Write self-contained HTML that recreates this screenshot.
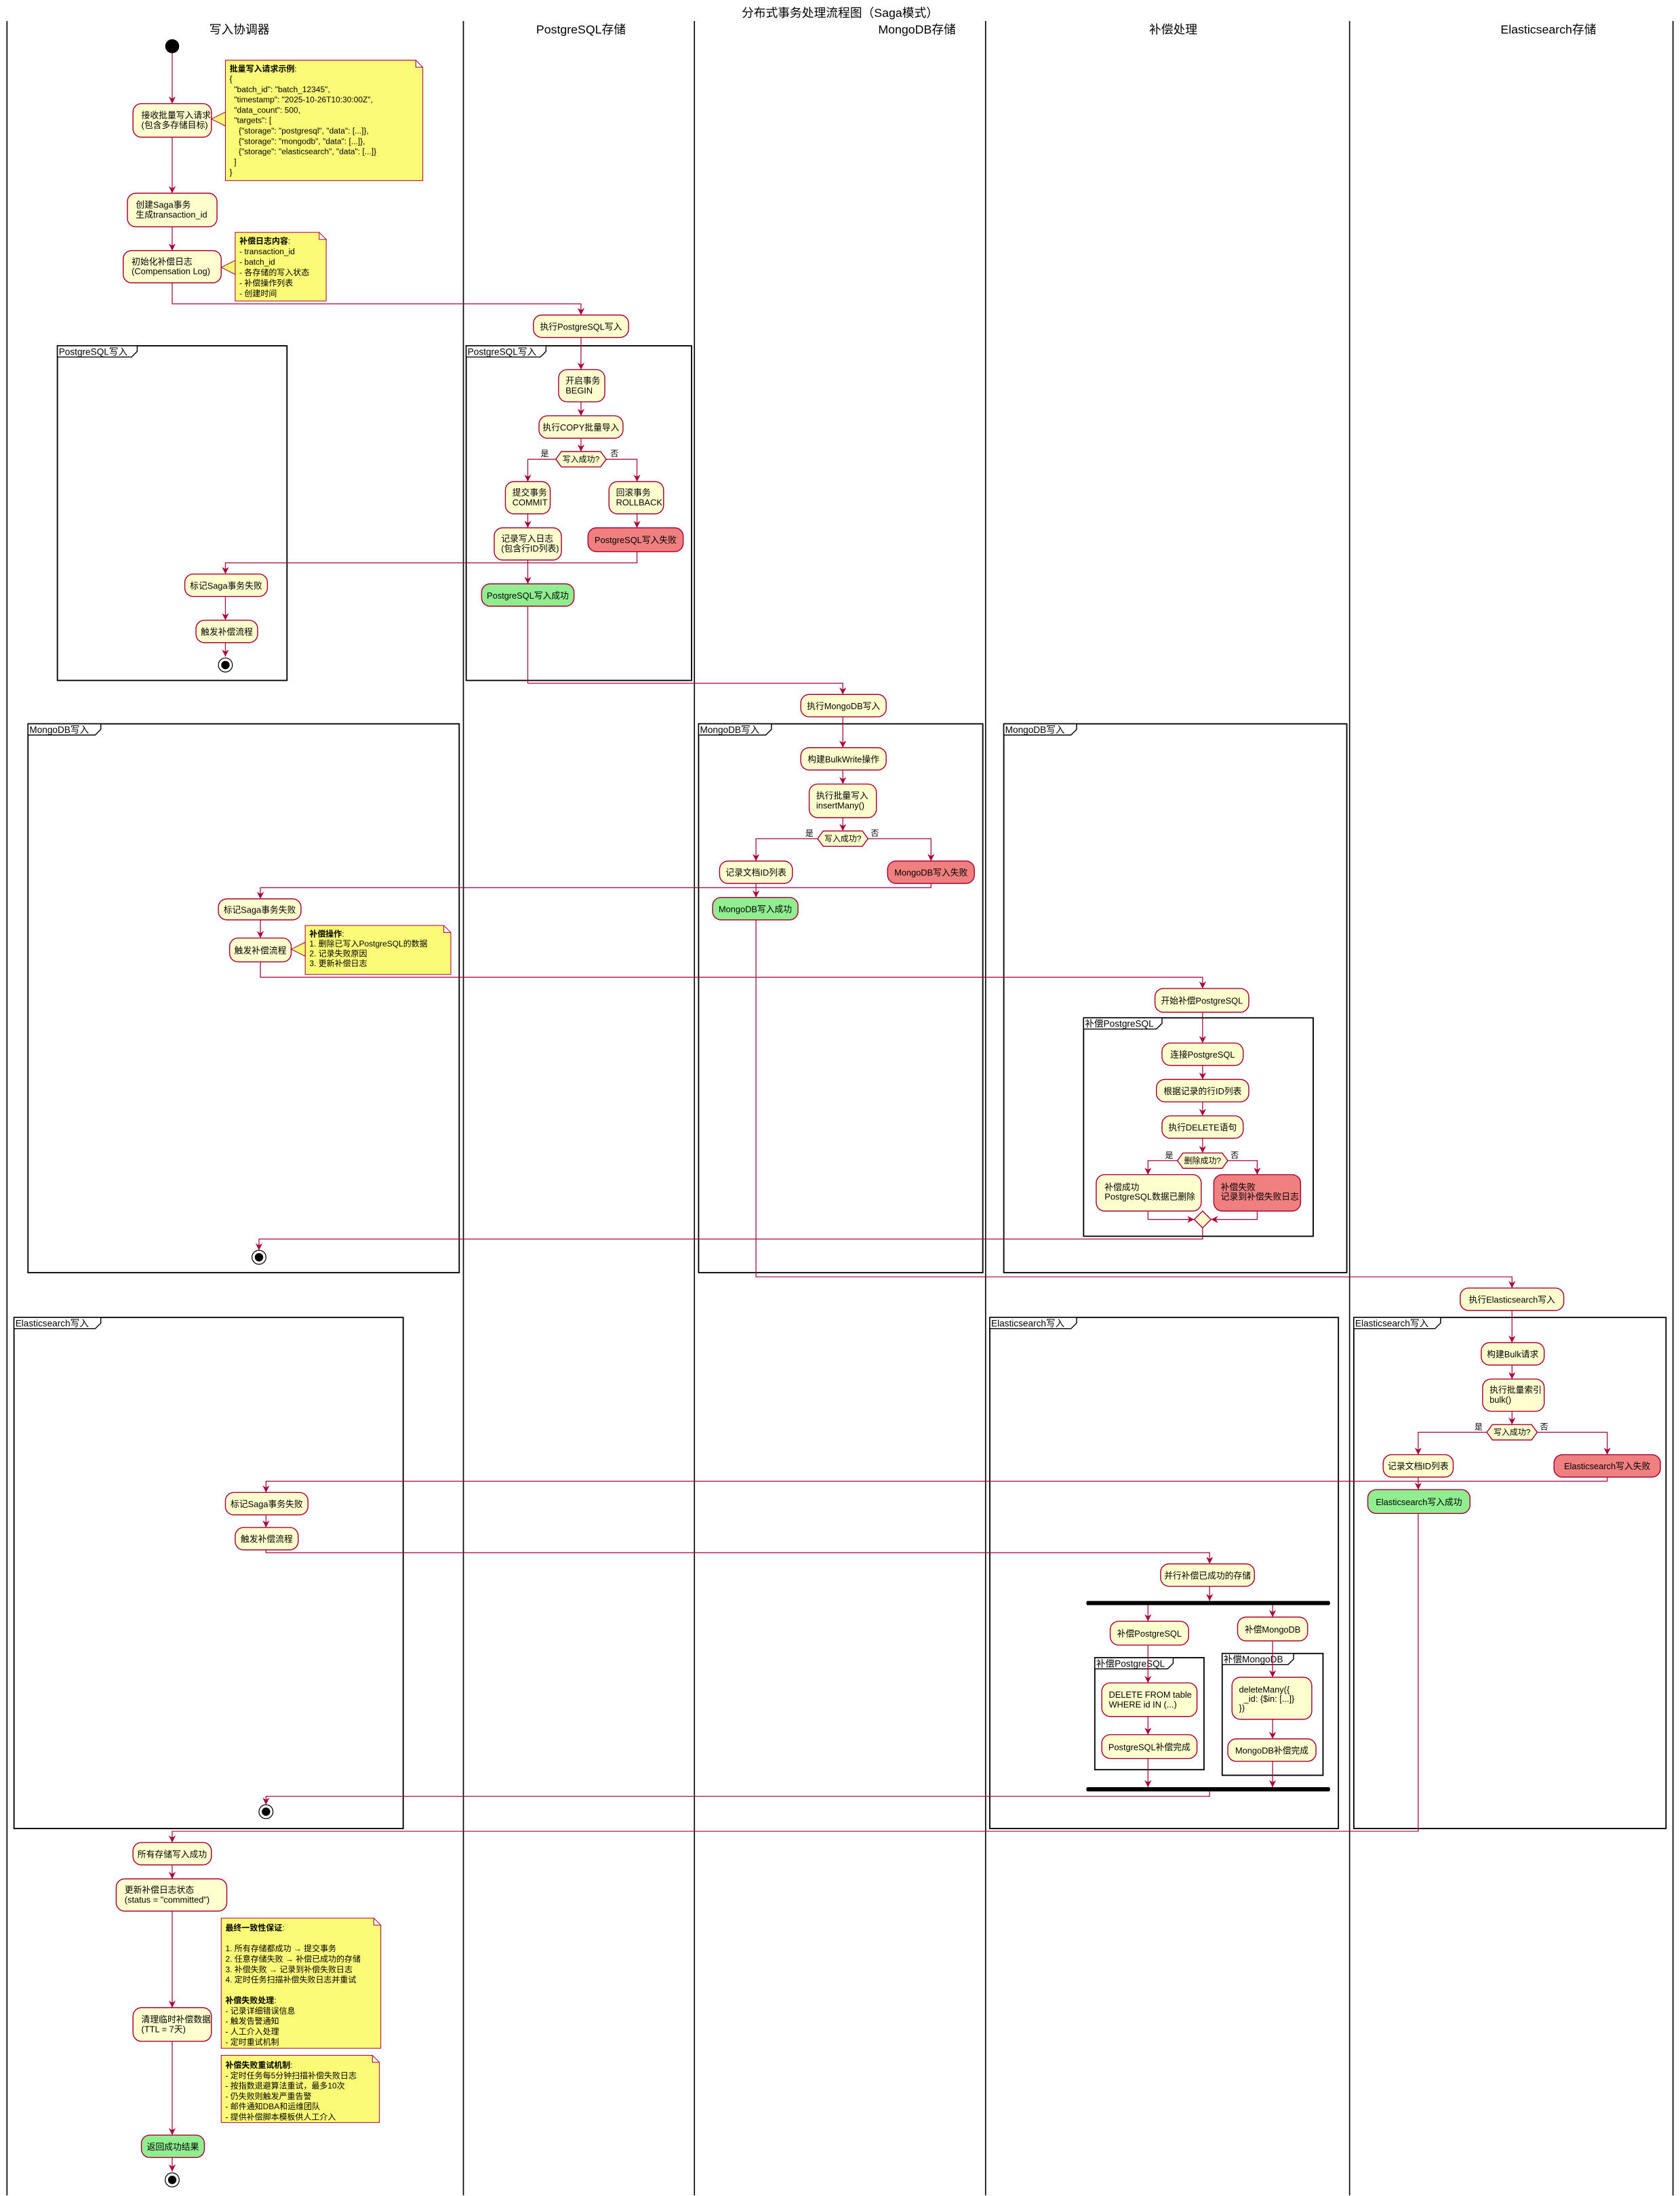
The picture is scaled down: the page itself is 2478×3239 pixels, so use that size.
<!DOCTYPE html>
<html><head><meta charset="utf-8"><style>
html,body{margin:0;padding:0;background:#fff;}
svg{display:block;}
text{font-family:"Liberation Sans","Noto Sans CJK SC",sans-serif;fill:#000;white-space:pre;}
.n{fill:#FEFECE;stroke:#A80036;stroke-width:0.7;}
.r{fill:#F08080;stroke:#A80036;stroke-width:0.7;}
.g{fill:#90EE90;stroke:#A80036;stroke-width:0.7;}
.note{fill:#FBFB77;stroke:#A80036;stroke-width:0.5;}
.l{fill:none;stroke:#A80036;stroke-width:0.6;}
.fr{fill:none;stroke:#000;stroke-width:0.9;}
.tab{fill:#fff;stroke:#000;stroke-width:0.7;}
.lane{stroke:#000;stroke-width:0.8;}
.t{font-size:6.2px;}
.nt{font-size:5.8px;}
.ft{font-size:6.6px;}
.h{font-size:8.6px;}
</style></head><body>
<svg width="2478" height="3239" viewBox="0 0 1200 1568.5" preserveAspectRatio="none" xmlns="http://www.w3.org/2000/svg" xml:space="preserve">
<defs>
<marker id="a" viewBox="0 0 10 10" refX="10" refY="5" markerWidth="5" markerHeight="5" markerUnits="userSpaceOnUse" orient="auto">
<path d="M0,0 L10,5 L0,10 L3,5 z" fill="#A80036"/></marker>
</defs>
<rect width="1200" height="1568.5" fill="#fff"/>
<text class="h" x="600" y="12" text-anchor="middle">分布式事务处理流程图（Saga模式）</text>
<line class="lane" x1="5" y1="15" x2="5" y2="1568"/>
<line class="lane" x1="331" y1="15" x2="331" y2="1568"/>
<line class="lane" x1="496" y1="15" x2="496" y2="1568"/>
<line class="lane" x1="704" y1="15" x2="704" y2="1568"/>
<line class="lane" x1="964" y1="15" x2="964" y2="1568"/>
<line class="lane" x1="1195" y1="15" x2="1195" y2="1568"/>
<text class="h" x="171" y="24" text-anchor="middle">写入协调器</text>
<text class="h" x="415" y="24" text-anchor="middle">PostgreSQL存储</text>
<text class="h" x="655" y="24" text-anchor="middle">MongoDB存储</text>
<text class="h" x="838" y="24" text-anchor="middle">补偿处理</text>
<text class="h" x="1106" y="24" text-anchor="middle">Elasticsearch存储</text>

<rect class="fr" x="41" y="247" width="164" height="239"/>
<path class="tab" d="M41,247 H98 V251 L94,255 H41 Z"/><text class="ft" x="42" y="253.5">PostgreSQL写入</text>
<rect class="fr" x="333" y="247" width="161" height="239"/>
<path class="tab" d="M333,247 H390 V251 L386,255 H333 Z"/><text class="ft" x="334" y="253.5">PostgreSQL写入</text>

<rect class="fr" x="20" y="517" width="308" height="392"/>
<path class="tab" d="M20,517 H72 V521 L68,525 H20 Z"/><text class="ft" x="21" y="523.5">MongoDB写入</text>
<rect class="fr" x="499" y="517" width="203" height="392"/>
<path class="tab" d="M499,517 H551 V521 L547,525 H499 Z"/><text class="ft" x="500" y="523.5">MongoDB写入</text>
<rect class="fr" x="717" y="517" width="245" height="392"/>
<path class="tab" d="M717,517 H769 V521 L765,525 H717 Z"/><text class="ft" x="718" y="523.5">MongoDB写入</text>
<rect class="fr" x="774" y="727" width="164" height="156"/>
<path class="tab" d="M774,727 H830 V731 L826,735 H774 Z"/><text class="ft" x="775" y="733.5">补偿PostgreSQL</text>

<rect class="fr" x="10" y="941" width="278" height="365"/>
<path class="tab" d="M10,941 H72 V945 L68,949 H10 Z"/><text class="ft" x="11" y="947.5">Elasticsearch写入</text>
<rect class="fr" x="707" y="941" width="249" height="365"/>
<path class="tab" d="M707,941 H769 V945 L765,949 H707 Z"/><text class="ft" x="708" y="947.5">Elasticsearch写入</text>
<rect class="fr" x="967" y="941" width="223" height="365"/>
<path class="tab" d="M967,941 H1029 V945 L1025,949 H967 Z"/><text class="ft" x="968" y="947.5">Elasticsearch写入</text>
<rect class="fr" x="782" y="1184" width="78" height="80"/>
<path class="tab" d="M782,1184 H838 V1188 L834,1192 H782 Z"/><text class="ft" x="783" y="1190.5">补偿PostgreSQL</text>
<rect class="fr" x="873" y="1181" width="72" height="87"/>
<path class="tab" d="M873,1181 H924 V1185 L920,1189 H873 Z"/><text class="ft" x="874" y="1187.5">补偿MongoDB</text>

<g class="l">
<polyline points="123,38 123,74" marker-end="url(#a)"/>
<polyline points="123,98 123,138" marker-end="url(#a)"/>
<polyline points="123,162 123,179" marker-end="url(#a)"/>
<polyline points="123,202 123,217 415,217 415,225" marker-end="url(#a)"/>
<polyline points="415,241 415,264" marker-end="url(#a)"/>
<polyline points="415,287 415,297" marker-end="url(#a)"/>
<polyline points="415,313 415,322.5" marker-end="url(#a)"/>
<polyline points="397,328 377,328 377,344" marker-end="url(#a)"/>
<polyline points="433,328 455,328 455,344" marker-end="url(#a)"/>
<polyline points="377,367 377,377" marker-end="url(#a)"/>
<polyline points="455,367 455,377" marker-end="url(#a)"/>
<polyline points="377,400 377,417" marker-end="url(#a)"/>
<polyline points="455,394 455,402 161,402 161,410" marker-end="url(#a)"/>
<polyline points="161,426 161,443" marker-end="url(#a)"/>
<polyline points="161,459 161,469" marker-end="url(#a)"/>
<polyline points="377,433 377,488 602,488 602,496" marker-end="url(#a)"/>
<polyline points="602,512 602,534" marker-end="url(#a)"/>
<polyline points="602,550 602,560" marker-end="url(#a)"/>
<polyline points="602,584 602,593.5" marker-end="url(#a)"/>
<polyline points="584,599 540,599 540,615" marker-end="url(#a)"/>
<polyline points="620,599 665,599 665,615" marker-end="url(#a)"/>
<polyline points="540,631 540,641" marker-end="url(#a)"/>
<polyline points="665,631 665,634 186,634 186,642" marker-end="url(#a)"/>
<polyline points="186,657 186,670" marker-end="url(#a)"/>
<polyline points="186,687 186,698 859,698 859,706" marker-end="url(#a)"/>
<polyline points="859,723 859,745" marker-end="url(#a)"/>
<polyline points="859,761 859,771" marker-end="url(#a)"/>
<polyline points="859,787 859,797" marker-end="url(#a)"/>
<polyline points="859,813 859,823.5" marker-end="url(#a)"/>
<polyline points="841,829 820,829 820,839" marker-end="url(#a)"/>
<polyline points="877,829 898,829 898,839" marker-end="url(#a)"/>
<polyline points="820,865 820,871 853,871" marker-end="url(#a)"/>
<polyline points="898,865 898,871 865,871" marker-end="url(#a)"/>
<polyline points="859,877 859,885 185,885 185,893" marker-end="url(#a)"/>
<polyline points="540,657 540,912 1080,912 1080,920" marker-end="url(#a)"/>
<polyline points="1080,936 1080,959" marker-end="url(#a)"/>
<polyline points="1080,975 1080,985" marker-end="url(#a)"/>
<polyline points="1080,1008 1080,1017.5" marker-end="url(#a)"/>
<polyline points="1062,1023 1013,1023 1013,1039" marker-end="url(#a)"/>
<polyline points="1098,1023 1148,1023 1148,1039" marker-end="url(#a)"/>
<polyline points="1013,1055 1013,1064" marker-end="url(#a)"/>
<polyline points="1148,1055 1148,1058 190,1058 190,1066" marker-end="url(#a)"/>
<polyline points="190,1082 190,1091" marker-end="url(#a)"/>
<polyline points="190,1107 190,1109 864,1109 864,1117" marker-end="url(#a)"/>
<polyline points="864,1133 864,1143.5" marker-end="url(#a)"/>
<polyline points="820,1146.5 820,1158" marker-end="url(#a)"/>
<polyline points="909,1146.5 909,1155" marker-end="url(#a)"/>
<polyline points="820,1175 820,1202" marker-end="url(#a)"/>
<polyline points="909,1172 909,1198" marker-end="url(#a)"/>
<polyline points="820,1226 820,1239" marker-end="url(#a)"/>
<polyline points="909,1228 909,1242" marker-end="url(#a)"/>
<polyline points="820,1256 820,1276.5" marker-end="url(#a)"/>
<polyline points="909,1258 909,1276.5" marker-end="url(#a)"/>
<polyline points="864,1279.5 864,1283 190,1283 190,1289" marker-end="url(#a)"/>
<polyline points="1013,1081 1013,1308 123,1308 123,1316" marker-end="url(#a)"/>
<polyline points="123,1332 123,1342" marker-end="url(#a)"/>
<polyline points="123,1365 123,1434" marker-end="url(#a)"/>
<polyline points="123,1458 123,1525" marker-end="url(#a)"/>
<polyline points="123,1541 123,1551" marker-end="url(#a)"/>
</g>

<circle cx="123" cy="33" r="5" fill="#000"/>
<circle cx="161" cy="475" r="5" fill="#fff" stroke="#000" stroke-width="0.6"/><circle cx="161" cy="475" r="3" fill="#000"/>
<circle cx="185" cy="898" r="5" fill="#fff" stroke="#000" stroke-width="0.6"/><circle cx="185" cy="898" r="3" fill="#000"/>
<circle cx="190" cy="1294" r="5" fill="#fff" stroke="#000" stroke-width="0.6"/><circle cx="190" cy="1294" r="3" fill="#000"/>
<circle cx="123" cy="1557" r="5" fill="#fff" stroke="#000" stroke-width="0.6"/><circle cx="123" cy="1557" r="3" fill="#000"/>

<rect x="776" y="1143.5" width="174" height="3" rx="1" fill="#000"/>
<rect x="776" y="1276.5" width="174" height="3" rx="1" fill="#000"/>

<polygon class="n" points="397,328 401,322.5 429,322.5 433,328 429,333.5 401,333.5"/><text class="nt" x="415" y="330" text-anchor="middle">写入成功?</text>
<text class="nt" x="392" y="326" text-anchor="end">是</text><text class="nt" x="436" y="326">否</text>
<polygon class="n" points="584,599 588,593.5 616,593.5 620,599 616,604.5 588,604.5"/><text class="nt" x="602" y="601" text-anchor="middle">写入成功?</text>
<text class="nt" x="581" y="597" text-anchor="end">是</text><text class="nt" x="622" y="597">否</text>
<polygon class="n" points="841,829 845,823.5 873,823.5 877,829 873,834.5 845,834.5"/><text class="nt" x="859" y="831" text-anchor="middle">删除成功?</text>
<text class="nt" x="838" y="827" text-anchor="end">是</text><text class="nt" x="879" y="827">否</text>
<polygon class="n" points="853,871 859,865 865,871 859,877"/>
<polygon class="n" points="1062,1023 1066,1017.5 1094,1017.5 1098,1023 1094,1028.5 1066,1028.5"/><text class="nt" x="1080" y="1025" text-anchor="middle">写入成功?</text>
<text class="nt" x="1059" y="1021" text-anchor="end">是</text><text class="nt" x="1100" y="1021">否</text>

<rect class="n" x="95" y="74" width="56" height="24" rx="6"/><text class="t" x="101" y="84.5">接收批量写入请求<tspan x="101" dy="7">(包含多存储目标)</tspan></text>
<rect class="n" x="91" y="138" width="64" height="24" rx="6"/><text class="t" x="97" y="148.5">创建Saga事务<tspan x="97" dy="7">生成transaction_id</tspan></text>
<rect class="n" x="88" y="179" width="70" height="23" rx="6"/><text class="t" x="94" y="189">初始化补偿日志<tspan x="94" dy="7">(Compensation Log)</tspan></text>
<rect class="n" x="132" y="410" width="59" height="16" rx="6"/><text class="t" x="161.5" y="420.5" text-anchor="middle">标记Saga事务失败</text>
<rect class="n" x="140" y="443" width="44" height="16" rx="6"/><text class="t" x="162" y="453.5" text-anchor="middle">触发补偿流程</text>
<rect class="n" x="156" y="642" width="59" height="15" rx="6"/><text class="t" x="185.5" y="652" text-anchor="middle">标记Saga事务失败</text>
<rect class="n" x="164" y="670" width="44" height="17" rx="6"/><text class="t" x="186" y="681" text-anchor="middle">触发补偿流程</text>
<rect class="n" x="161" y="1066" width="59" height="16" rx="6"/><text class="t" x="190.5" y="1076.5" text-anchor="middle">标记Saga事务失败</text>
<rect class="n" x="168" y="1091" width="45" height="16" rx="6"/><text class="t" x="190.5" y="1101.5" text-anchor="middle">触发补偿流程</text>
<rect class="n" x="95" y="1316" width="56" height="16" rx="6"/><text class="t" x="123" y="1326.5" text-anchor="middle">所有存储写入成功</text>
<rect class="n" x="83" y="1342" width="79" height="23" rx="6"/><text class="t" x="89" y="1352">更新补偿日志状态<tspan x="89" dy="7">(status = "committed")</tspan></text>
<rect class="n" x="95" y="1434" width="56" height="24" rx="6"/><text class="t" x="101" y="1444.5">清理临时补偿数据<tspan x="101" dy="7">(TTL = 7天)</tspan></text>
<rect class="g" x="101" y="1525" width="45" height="16" rx="6"/><text class="t" x="123.5" y="1535.5" text-anchor="middle">返回成功结果</text>

<rect class="n" x="381" y="225" width="68" height="16" rx="6"/><text class="t" x="415" y="235.5" text-anchor="middle">执行PostgreSQL写入</text>
<rect class="n" x="399" y="264" width="33" height="23" rx="6"/><text class="t" x="404" y="274">开启事务<tspan x="404" dy="7">BEGIN</tspan></text>
<rect class="n" x="385" y="297" width="60" height="16" rx="6"/><text class="t" x="415" y="307.5" text-anchor="middle">执行COPY批量导入</text>
<rect class="n" x="361" y="344" width="32" height="23" rx="6"/><text class="t" x="366" y="354">提交事务<tspan x="366" dy="7">COMMIT</tspan></text>
<rect class="n" x="435" y="344" width="39" height="23" rx="6"/><text class="t" x="440" y="354">回滚事务<tspan x="440" dy="7">ROLLBACK</tspan></text>
<rect class="n" x="353" y="377" width="48" height="23" rx="6"/><text class="t" x="358" y="387">记录写入日志<tspan x="358" dy="7">(包含行ID列表)</tspan></text>
<rect class="r" x="420" y="377" width="68" height="17" rx="6"/><text class="t" x="454" y="388" text-anchor="middle">PostgreSQL写入失败</text>
<rect class="g" x="344" y="417" width="66" height="16" rx="6"/><text class="t" x="377" y="427.5" text-anchor="middle">PostgreSQL写入成功</text>

<rect class="n" x="572" y="496" width="61" height="16" rx="6"/><text class="t" x="602.5" y="506.5" text-anchor="middle">执行MongoDB写入</text>
<rect class="n" x="572" y="534" width="61" height="16" rx="6"/><text class="t" x="602.5" y="544.5" text-anchor="middle">构建BulkWrite操作</text>
<rect class="n" x="578" y="560" width="48" height="24" rx="6"/><text class="t" x="583" y="570.5">执行批量写入<tspan x="583" dy="7">insertMany()</tspan></text>
<rect class="n" x="514" y="615" width="52" height="16" rx="6"/><text class="t" x="540" y="625.5" text-anchor="middle">记录文档ID列表</text>
<rect class="r" x="634" y="615" width="62" height="16" rx="6"/><text class="t" x="665" y="625.5" text-anchor="middle">MongoDB写入失败</text>
<rect class="g" x="509" y="641" width="61" height="16" rx="6"/><text class="t" x="539.5" y="651.5" text-anchor="middle">MongoDB写入成功</text>

<rect class="n" x="825" y="706" width="67" height="17" rx="6"/><text class="t" x="858.5" y="717" text-anchor="middle">开始补偿PostgreSQL</text>
<rect class="n" x="830" y="745" width="58" height="16" rx="6"/><text class="t" x="859" y="755.5" text-anchor="middle">连接PostgreSQL</text>
<rect class="n" x="826" y="771" width="66" height="16" rx="6"/><text class="t" x="859" y="781.5" text-anchor="middle">根据记录的行ID列表</text>
<rect class="n" x="830" y="797" width="58" height="16" rx="6"/><text class="t" x="859" y="807.5" text-anchor="middle">执行DELETE语句</text>
<rect class="n" x="783" y="839" width="75" height="26" rx="6"/><text class="t" x="789" y="850">补偿成功<tspan x="789" dy="7">PostgreSQL数据已删除</tspan></text>
<rect class="r" x="867" y="839" width="62" height="26" rx="6"/><text class="t" x="872" y="850">补偿失败<tspan x="872" dy="7">记录到补偿失败日志</tspan></text>
<rect class="n" x="829" y="1117" width="67" height="16" rx="6"/><text class="t" x="862.5" y="1127.5" text-anchor="middle">并行补偿已成功的存储</text>
<rect class="n" x="793" y="1158" width="56" height="17" rx="6"/><text class="t" x="821" y="1169" text-anchor="middle">补偿PostgreSQL</text>
<rect class="n" x="884" y="1155" width="50" height="17" rx="6"/><text class="t" x="909" y="1166" text-anchor="middle">补偿MongoDB</text>
<rect class="n" x="787" y="1202" width="68" height="24" rx="6"/><text class="t" x="792" y="1212.5">DELETE FROM table<tspan x="792" dy="7">WHERE id IN (...)</tspan></text>
<rect class="n" x="787" y="1239" width="68" height="17" rx="6"/><text class="t" x="821" y="1250" text-anchor="middle">PostgreSQL补偿完成</text>
<rect class="n" x="880" y="1198" width="57" height="30" rx="6"/><text class="t" x="885" y="1209">deleteMany({<tspan x="885" dy="6.5">  _id: {$in: [...]}</tspan><tspan x="885" dy="6.5">})</tspan></text>
<rect class="n" x="877" y="1242" width="63" height="16" rx="6"/><text class="t" x="908.5" y="1252.5" text-anchor="middle">MongoDB补偿完成</text>

<rect class="n" x="1043" y="920" width="74" height="16" rx="6"/><text class="t" x="1080" y="930.5" text-anchor="middle">执行Elasticsearch写入</text>
<rect class="n" x="1058" y="959" width="45" height="16" rx="6"/><text class="t" x="1080.5" y="969.5" text-anchor="middle">构建Bulk请求</text>
<rect class="n" x="1059" y="985" width="44" height="23" rx="6"/><text class="t" x="1064" y="995">执行批量索引<tspan x="1064" dy="7">bulk()</tspan></text>
<rect class="n" x="988" y="1039" width="50" height="16" rx="6"/><text class="t" x="1013" y="1049.5" text-anchor="middle">记录文档ID列表</text>
<rect class="r" x="1110" y="1039" width="76" height="16" rx="6"/><text class="t" x="1148" y="1049.5" text-anchor="middle">Elasticsearch写入失败</text>
<rect class="g" x="977" y="1064" width="73" height="17" rx="6"/><text class="t" x="1013.5" y="1075" text-anchor="middle">Elasticsearch写入成功</text>

<path class="note" d="M161,43 H297 L302,48 V129 H161 Z M297,43 V48 H302"/>
<polygon class="note" points="151,85 161,80 161,90"/>
<text class="nt" x="164" y="51"><tspan font-weight="bold">批量写入请求示例</tspan>:<tspan x="164" dy="7.4">{</tspan><tspan x="164" dy="7.4">  "batch_id": "batch_12345",</tspan><tspan x="164" dy="7.4">  "timestamp": "2025-10-26T10:30:00Z",</tspan><tspan x="164" dy="7.4">  "data_count": 500,</tspan><tspan x="164" dy="7.4">  "targets": [</tspan><tspan x="164" dy="7.4">    {"storage": "postgresql", "data": [...]},</tspan><tspan x="164" dy="7.4">    {"storage": "mongodb", "data": [...]},</tspan><tspan x="164" dy="7.4">    {"storage": "elasticsearch", "data": [...]}</tspan><tspan x="164" dy="7.4">  ]</tspan><tspan x="164" dy="7.4">}</tspan></text>

<path class="note" d="M168,166 H228 L233,171 V215 H168 Z M228,166 V171 H233"/>
<polygon class="note" points="158,191 168,186 168,196"/>
<text class="nt" x="171" y="174"><tspan font-weight="bold">补偿日志内容</tspan>:<tspan x="171" dy="7.5">- transaction_id</tspan><tspan x="171" dy="7.5">- batch_id</tspan><tspan x="171" dy="7.5">- 各存储的写入状态</tspan><tspan x="171" dy="7.5">- 补偿操作列表</tspan><tspan x="171" dy="7.5">- 创建时间</tspan></text>

<path class="note" d="M218,661 H317 L322,666 V696 H218 Z M317,661 V666 H322"/>
<polygon class="note" points="208,678 218,673 218,683"/>
<text class="nt" x="221" y="669"><tspan font-weight="bold">补偿操作</tspan>:<tspan x="221" dy="7">1. 删除已写入PostgreSQL的数据</tspan><tspan x="221" dy="7">2. 记录失败原因</tspan><tspan x="221" dy="7">3. 更新补偿日志</tspan></text>

<path class="note" d="M158,1370 H267 L272,1375 V1463 H158 Z M267,1370 V1375 H272"/>
<text class="nt" x="161" y="1379"><tspan font-weight="bold">最终一致性保证</tspan>:<tspan x="161" dy="14.8">1. 所有存储都成功 → 提交事务</tspan><tspan x="161" dy="7.4">2. 任意存储失败 → 补偿已成功的存储</tspan><tspan x="161" dy="7.4">3. 补偿失败 → 记录到补偿失败日志</tspan><tspan x="161" dy="7.4">4. 定时任务扫描补偿失败日志并重试</tspan><tspan x="161" dy="14.8" font-weight="bold">补偿失败处理</tspan><tspan>:</tspan><tspan x="161" dy="7.4">- 记录详细错误信息</tspan><tspan x="161" dy="7.4">- 触发告警通知</tspan><tspan x="161" dy="7.4">- 人工介入处理</tspan><tspan x="161" dy="7.4">- 定时重试机制</tspan></text>

<path class="note" d="M158,1468 H266 L271,1473 V1516 H158 Z M266,1468 V1473 H271"/>
<text class="nt" x="161" y="1477"><tspan font-weight="bold">补偿失败重试机制</tspan>:<tspan x="161" dy="7.4">- 定时任务每5分钟扫描补偿失败日志</tspan><tspan x="161" dy="7.4">- 按指数退避算法重试，最多10次</tspan><tspan x="161" dy="7.4">- 仍失败则触发严重告警</tspan><tspan x="161" dy="7.4">- 邮件通知DBA和运维团队</tspan><tspan x="161" dy="7.4">- 提供补偿脚本模板供人工介入</tspan></text>
</svg>
</body></html>
